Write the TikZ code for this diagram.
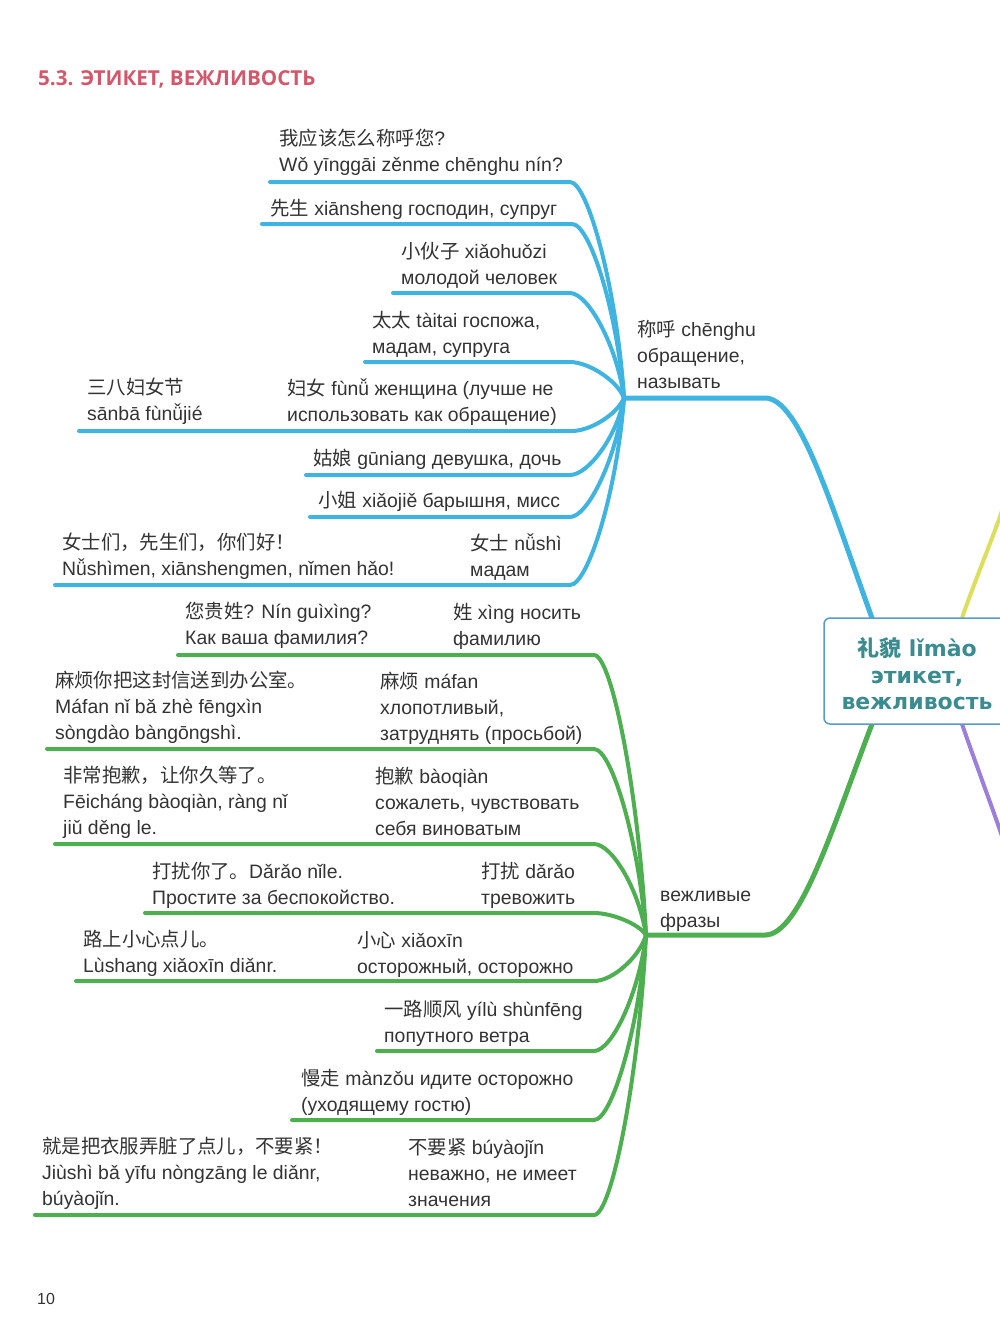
\documentclass[tikz,border=0pt]{standalone}
\usepackage{fontspec}
\setmainfont{Liberation Sans}
\newfontfamily\cjk{Noto Sans CJK SC}
\newfontfamily\boxfont{DejaVu Sans}
\newfontfamily\titlefont{Open Sans}
\usetikzlibrary{calc}
\definecolor{blueL}{HTML}{3FB4E0}
\definecolor{greenL}{HTML}{4DAF4F}
\definecolor{titlec}{HTML}{D4566A}
\definecolor{ink}{HTML}{333333}
\definecolor{teal}{HTML}{3A8C90}
\definecolor{boxedge}{HTML}{5A9AC8}
\definecolor{yellowL}{HTML}{DCDF5C}
\definecolor{purpleL}{HTML}{9C7EDB}
\newcommand\zh[1]{{\cjk #1}}
\newcommand\ml[1]{\vtop{\baselineskip=26pt\lineskiplimit=-30pt\lineskip=0pt #1}}
\tikzset{
  txt/.style={anchor=base west, inner sep=0pt, text=ink, font=\fontsize{19.4}{26}\selectfont},
  bline/.style={draw=blueL, line width=4pt, line cap=round, line join=round},
  gline/.style={draw=greenL, line width=4pt, line cap=round, line join=round},
}
\newcommand\kid[4]{% style, left coord, right coord, junction
  \draw[#1] (#2) -- (#3) .. controls +(18,0) and ($(#4)!0.5!(#4|-#3)+(-7,0)$) .. (#4);}
\begin{document}
\begin{tikzpicture}[x=1pt,y=-1pt]
\useasboundingbox (0,0) rectangle (1000,1342);
\clip (0,0) rectangle (1000,1342);

% title
\node[anchor=base west, inner sep=0pt, text=titlec, font=\titlefont\bfseries\fontsize{20.6}{24}\selectfont] (title) at (38,85) {5.3. ЭТИКЕТ, ВЕЖЛИВОСТЬ};
\node[anchor=base west, inner sep=0pt, text=ink, font=\fontsize{16}{20}\selectfont] (page) at (37,1304) {10};

% junctions
\coordinate (bj) at (624,398);
\coordinate (gj) at (646,935);
\coordinate (bm) at (765,398);
\coordinate (gm) at (765,935);
\coordinate (boxT) at (872,618);
\coordinate (boxB) at (872,724);
\coordinate (yT) at (962,618);
\coordinate (yE) at (1004,505);
\coordinate (pB) at (962,724);
\coordinate (pE) at (1004,842);

% blue underlines
\coordinate (b1l) at (270,182); \coordinate (b1r) at (570,182);
\coordinate (b2l) at (262,224); \coordinate (b2r) at (572,224);
\coordinate (b3l) at (393,293); \coordinate (b3r) at (570,293);
\coordinate (b4l) at (365,362); \coordinate (b4r) at (570,362);
\coordinate (b5l) at (79,431);  \coordinate (b5r) at (572,431);
\coordinate (b6l) at (306,475); \coordinate (b6r) at (570,475);
\coordinate (b7l) at (310,517); \coordinate (b7r) at (570,517);
\coordinate (b8l) at (55,585);  \coordinate (b8r) at (570,585);
\foreach \i in {1,...,8}{\kid{bline}{b\i l}{b\i r}{bj}}
\draw[bline, line width=5pt] (bj) -- (bm) .. controls +(35,0) and +(-40,-110) .. (boxT);

% green underlines
\coordinate (g1l) at (178,655);  \coordinate (g1r) at (594,655);
\coordinate (g2l) at (47,749);   \coordinate (g2r) at (594,749);
\coordinate (g3l) at (55,844);   \coordinate (g3r) at (594,844);
\coordinate (g4l) at (145,913);  \coordinate (g4r) at (594,913);
\coordinate (g5l) at (76,981);   \coordinate (g5r) at (594,981);
\coordinate (g6l) at (377,1051); \coordinate (g6r) at (594,1051);
\coordinate (g7l) at (292,1120); \coordinate (g7r) at (594,1120);
\coordinate (g8l) at (35,1215);  \coordinate (g8r) at (594,1215);
\foreach \i in {1,...,8}{\kid{gline}{g\i l}{g\i r}{gj}}
\draw[gline, line width=5pt] (gj) -- (gm) .. controls +(35,0) and +(-40,105) .. (boxB);

% yellow and purple stubs
\draw[draw=yellowL, line width=4pt] (yT) .. controls +(12,-35) and +(-10,30) .. (yE);
\draw[draw=purpleL, line width=4pt] (pB) .. controls +(12,35) and +(-10,-30) .. (pE);

% centre box
\node[draw=boxedge, line width=1.5pt, rounded corners=6pt, fill=white, minimum width=188pt, minimum height=106pt, inner sep=0pt] (box) at (918,671) {};
\node[align=center, inner sep=0pt, text=teal, font=\boxfont\bfseries\fontsize{22}{26.5}\selectfont] (boxtxt) at (917,674) {{\cjk\bfseries 礼貌} lǐmào\\этикет,\\вежливость};

% branch labels
\node[txt] (blab) at (637,336) {\ml{\hbox{\zh{称呼} chēnghu}\hbox{обращение,}\hbox{называть}}};
\node[txt] (glab) at (660,901) {\ml{\hbox{вежливые}\hbox{фразы}}};

% blue texts
\node[txt] (b1) at (279,145) {\ml{\hbox{\zh{我应该怎么称呼您}?}\hbox{Wǒ yīnggāi zěnme chēnghu nín?}}};
\node[txt] (b2) at (270,215) {\zh{先生} xiānsheng господин, супруг};
\node[txt] (b3) at (401,258) {\ml{\hbox{\zh{小伙子} xiǎohuǒzi}\hbox{молодой человек}}};
\node[txt] (b4) at (372,327) {\ml{\hbox{\zh{太太} tàitai госпожа,}\hbox{мадам, супруга}}};
\node[txt] (b5) at (287,395) {\ml{\hbox{\zh{妇女} fùnǚ женщина (лучше не}\hbox{использовать как обращение)}}};
\node[txt] (b5a) at (87,394) {\ml{\hbox{\zh{三八妇女节}}\hbox{sānbā fùnǚjié}}};
\node[txt] (b6) at (313,465) {\zh{姑娘} gūniang девушка, дочь};
\node[txt] (b7) at (318,507) {\zh{小姐} xiǎojiě барышня, мисс};
\node[txt] (b8) at (470,550) {\ml{\hbox{\zh{女士} nǚshì}\hbox{мадам}}};
\node[txt] (b8a) at (62,549) {\ml{\hbox{\zh{女士们，先生们，你们好！}}\hbox{Nǚshìmen, xiānshengmen, nǐmen hǎo!}}};

% green texts
\node[txt] (g1) at (453,619) {\ml{\hbox{\zh{姓} xìng носить}\hbox{фамилию}}};
\node[txt] (g1a) at (185,618) {\ml{\hbox{\zh{您贵姓}? Nín guìxìng?}\hbox{Как ваша фамилия?}}};
\node[txt] (g2) at (380,688) {\ml{\hbox{\zh{麻烦} máfan}\hbox{хлопотливый,}\hbox{затруднять (просьбой)}}};
\node[txt] (g2a) at (55,687) {\ml{\hbox{\zh{麻烦你把这封信送到办公室。}}\hbox{Máfan nǐ bǎ zhè fēngxìn}\hbox{sòngdào bàngōngshì.}}};
\node[txt] (g3) at (375,783) {\ml{\hbox{\zh{抱歉} bàoqiàn}\hbox{сожалеть, чувствовать}\hbox{себя виноватым}}};
\node[txt] (g3a) at (63,782) {\ml{\hbox{\zh{非常抱歉，让你久等了。}}\hbox{Fēicháng bàoqiàn, ràng nǐ}\hbox{jiǔ děng le.}}};
\node[txt] (g4) at (481,878) {\ml{\hbox{\zh{打扰} dǎrǎo}\hbox{тревожить}}};
\node[txt] (g4a) at (152,878) {\ml{\hbox{\zh{打扰你了。}Dǎrǎo nǐle.}\hbox{Простите за беспокойство.}}};
\node[txt] (g5) at (357,947) {\ml{\hbox{\zh{小心} xiǎoxīn}\hbox{осторожный, осторожно}}};
\node[txt] (g5a) at (83,946) {\ml{\hbox{\zh{路上小心点儿。}}\hbox{Lùshang xiǎoxīn diǎnr.}}};
\node[txt] (g6) at (384,1016) {\ml{\hbox{\zh{一路顺风} yílù shùnfēng}\hbox{попутного ветра}}};
\node[txt] (g7) at (301,1085) {\ml{\hbox{\zh{慢走} mànzǒu идите осторожно}\hbox{(уходящему гостю)}}};
\node[txt] (g8) at (408,1154) {\ml{\hbox{\zh{不要紧} búyàojǐn}\hbox{неважно, не имеет}\hbox{значения}}};
\node[txt] (g8a) at (42,1153) {\ml{\hbox{\zh{就是把衣服弄脏了点儿，不要紧！}}\hbox{Jiùshì bǎ yīfu nòngzāng le diǎnr,}\hbox{búyàojǐn.}}};
\end{tikzpicture}
\end{document}
